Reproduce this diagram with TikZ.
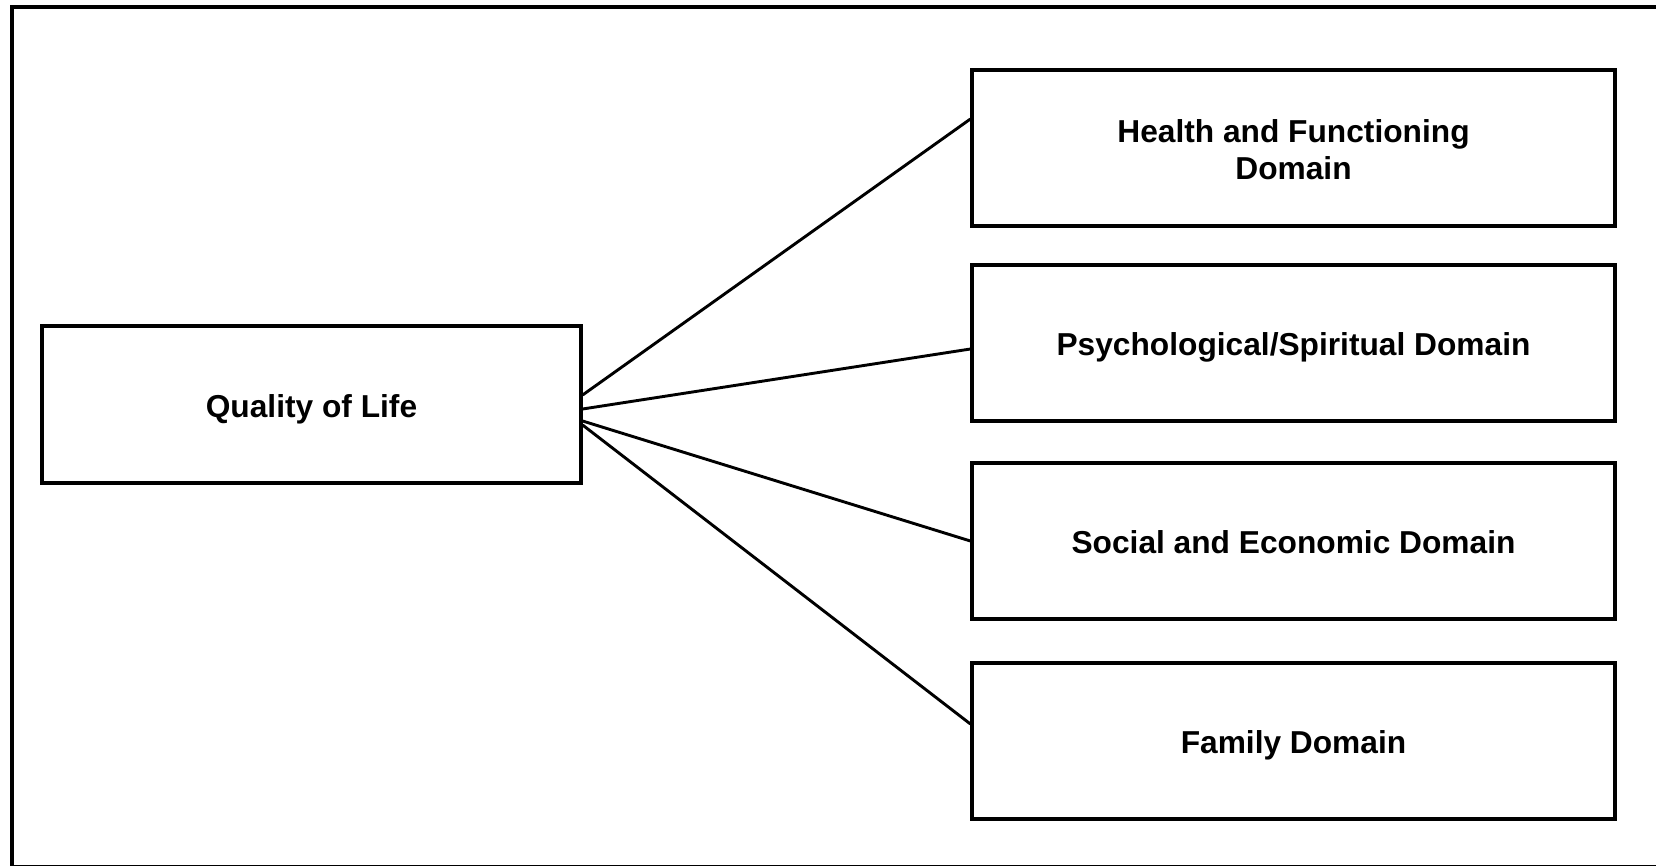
\documentclass[tikz,border=0pt]{standalone}
\usepackage{fontspec}
\setmainfont{Liberation Sans}
\newcommand{\dnlabel}[1]{\raisebox{-5.5pt}[\height][\depth]{\begin{tabular}{@{}c@{}}#1\end{tabular}}}
\begin{document}
\begin{tikzpicture}[x=1pt,y=-1pt,
  dombox/.style={draw=black,line width=3.2pt,fill=white,inner sep=0pt,
    minimum width=643pt,minimum height=156pt,
    font=\bfseries\fontsize{31.7}{37}\selectfont},
  qolbox/.style={dombox,minimum width=539pt,minimum height=157pt},
  link/.style={line width=2.9pt}]
\useasboundingbox (0,0) rectangle (1656,866);
\begin{scope}
\clip (0,0) rectangle (1656,866);
\draw[line width=3.2pt] (12,7) rectangle (1675,867);
\end{scope}
\node[qolbox] (q) at (311.5,404.5) {\dnlabel{Quality of Life}};
\node[dombox] (h) at (1293.5,148) {\dnlabel{Health and Functioning\\Domain}};
\node[dombox] (p) at (1293.5,343) {\dnlabel{Psychological/Spiritual Domain}};
\node[dombox] (s) at (1293.5,541) {\dnlabel{Social and Economic Domain}};
\node[dombox] (f) at (1293.5,741) {\dnlabel{Family Domain}};
\draw[link] ([yshift=9.5pt]q.east) -- ([yshift=29pt]h.west);
\draw[link] ([yshift=-4.5pt]q.east) -- ([yshift=-6pt]p.west);
\draw[link] ([yshift=-16.5pt]q.east) -- (s.west);
\draw[link] ([yshift=-20.5pt]q.east) -- ([yshift=17pt]f.west);
\end{tikzpicture}
\end{document}
